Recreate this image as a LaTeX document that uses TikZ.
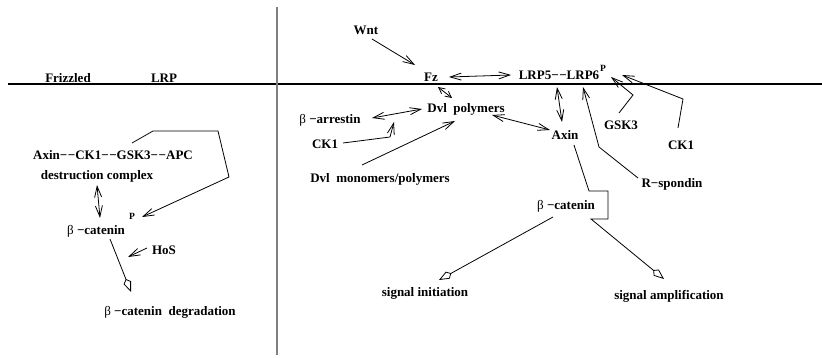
\documentclass[tikz,border=0pt]{standalone}
\usepackage{fontspec}
\setmainfont{Liberation Serif}
\usetikzlibrary{arrows.meta,calc}
\tikzset{
  lbl/.style={font=\fontsize{13}{13}\selectfont\bfseries, inner sep=0pt,
              text height=9pt, text depth=0pt, anchor=center},
  supp/.style={font=\fontsize{9.5}{10}\selectfont\bfseries, inner sep=0pt, anchor=center},
  link/.style={line width=0.8pt},
  barb/.tip={Straight Barb[length=11pt,width=7pt]},
  arr/.style={link, -barb},
  darr/.style={link, barb-barb},
  dia/.style={link, -{Kite[open,length=14pt,width=8pt,inset=4pt]}},
  membrane/.style={line width=1.4pt},
  divider/.style={gray, line width=1.3pt},
}
\newcommand{\gbeta}{{\mdseries β}}
\newcommand{\dd}{−\kern0.6pt−}
\begin{document}
\begin{tikzpicture}[x=1pt,y=-1pt]
\useasboundingbox (0,0) rectangle (822,358);

% cell membrane and panel divider
\coordinate (memL) at (8,84);
\coordinate (memR) at (822,84);
\draw[membrane] (memL) -- (memR);
\coordinate (divT) at (277,7);
\coordinate (divB) at (277,355);
\draw[divider] (divT) -- (divB);

% left panel: no Wnt
\node[lbl] (frz)  at (68,78)  {Frizzled};
\node[lbl] (lrpL) at (164,78) {LRP};
\node[lbl] (dcx)  at (113,155) {Axin\dd CK1\dd GSK3\dd APC};
\node[lbl] (dcl)  at (97,175) {destruction complex};
\node[lbl] (bcL)  at (96,230) {\gbeta\ −catenin};
\node[supp] (bcLp) at (132,216) {P};
\node[lbl] (hos)  at (164,250) {HoS};
\node[lbl] (deg)  at (170,311) {\gbeta\ −catenin\ \ degradation};

% right panel: Wnt present
\node[lbl] (wnt)  at (366,30)  {Wnt};
\node[lbl] (fz)   at (431,77)  {Fz};
\node[lbl] (lrp)  at (559,75)  {LRP5\dd LRP6};
\node[supp] (lrpp) at (603,68) {P};
\node[lbl] (axin) at (565,135) {Axin};
\node[lbl] (dvl)  at (466,108) {Dvl\ \ polymers};
\node[lbl] (arr)  at (330,119) {\gbeta\ −arrestin};
\node[lbl] (ckA)  at (325,144) {CK1};
\node[lbl] (dvlm) at (380,178) {Dvl\ \ monomers/polymers};
\node[lbl] (gsk)  at (621,125) {GSK3};
\node[lbl] (ckB)  at (681,145) {CK1};
\node[lbl] (rsp)  at (672,183) {R−spondin};
\node[lbl] (bcR)  at (566,205) {\gbeta\ −catenin};
\node[lbl] (sini) at (425,292) {signal initiation};
\node[lbl] (samp) at (669,295) {signal amplification};

% left panel connectors
\draw[arr] ($(dcx)+(19,-12)$) -- (153,131) -- (218,131) -- (229,177) -- ($(bcL)+(46,-13)$);
\draw[darr] ($(dcl)+(0,10)$) -- ($(bcL)+(4,-12)$);
\coordinate (hosT) at (128,257);
\draw[arr] ($(hos)+(-17,-2)$) -- (hosT);
\draw[dia] ($(bcL)+(14,9)$) -- ($(deg)+(-39,-19)$);

% right panel connectors
\draw[arr] ($(wnt)+(6,9)$) -- ($(fz)+(-16,-12)$);
\draw[darr] ($(fz)+(18,0)$) -- ($(lrp)+(-48,0)$);
\draw[link, {Straight Barb[length=6pt,width=6pt]}-{Straight Barb[length=6pt,width=6pt]}]
  ($(fz)+(7,10)$) -- ($(fz)+(21,21)$);
\draw[darr] ($(arr)+(42,-1)$) -- ($(dvl)+(-44,1)$);
\coordinate (ckT) at (394,122);
\draw[arr] ($(ckA)+(18,-1)$) -- (390,137) -- (ckT);
\draw[arr] ($(dvlm)+(-18,-13)$) -- ($(dvl)+(-11,13)$);
\draw[darr] ($(dvl)+(26,7)$) -- ($(axin)+(-15,-5)$);
\draw[darr] ($(lrp)+(-2,12)$) -- ($(axin)+(-3,-13)$);
\draw[arr] ($(gsk)+(-2,-12)$) -- (633,95) -- ($(lrp)+(52,2)$);
\draw[arr] ($(ckB)+(-3,-17)$) -- (683,99) -- ($(lrp)+(63,0)$);
\draw[arr] ($(rsp)+(-34,-5)$) -- (599,147) -- ($(lrp)+(24,12)$);
\draw[dia] ($(axin)+(9,10)$) -- (589,191) -- (608,191) -- (608,219) -- (591,219) -- ($(samp)+(-5,-16)$);
\draw[dia] ($(bcR)+(-13,12)$) -- ($(sini)+(14,-12)$);
\end{tikzpicture}
\end{document}
